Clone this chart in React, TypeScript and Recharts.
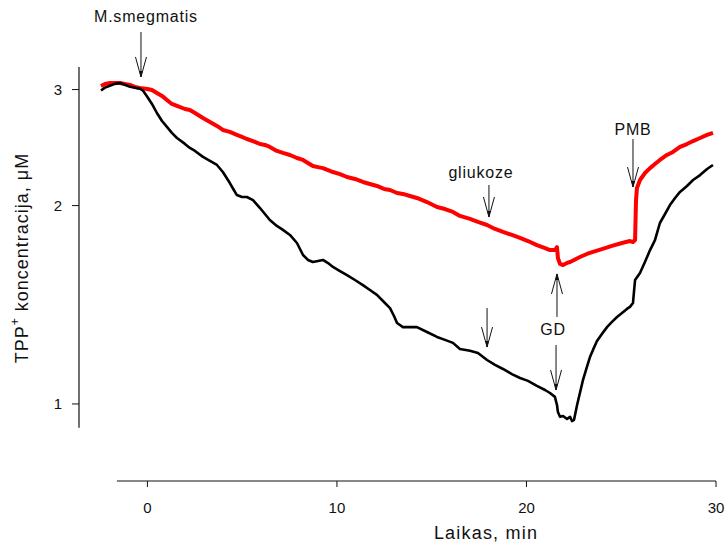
import React from 'react';
import { ComposedChart, Line, XAxis, YAxis, ReferenceLine, ReferenceDot } from 'recharts';

// Time (min) and TPP+ concentration (µM) for the control trace with glucose (red)
const redTime = [
  -2.45, -2.24, -1.98, -1.72, -1.45, -1.19, -0.92, -0.66, -0.4, 0, 0.24, 0.5, 0.77, 1.03, 1.29, 1.56,
  1.98, 2.24, 2.51, 2.93, 3.3, 3.67, 3.98, 4.35, 4.72, 4.99, 5.25, 5.57, 5.94, 6.2, 6.46, 6.83, 7.15,
  7.52, 7.89, 8.21, 8.47, 8.73, 9.0, 9.26, 9.53, 9.79, 10.16, 10.53, 10.95, 11.37, 11.74, 12.11, 12.48,
  12.8, 13.17, 13.48, 13.85, 14.22, 14.75, 15.28, 15.7, 16.12, 16.49, 17.02, 17.44, 17.92, 18.34, 18.76,
  19.23, 19.66, 20.08, 20.55, 20.98, 21.24, 21.5, 21.61, 21.66, 21.77, 21.93, 22.14, 22.3, 22.51, 22.82,
  23.19, 23.51, 23.98, 24.51, 25.04, 25.46, 25.62, 25.73, 25.78, 25.83, 25.99, 26.25, 26.52, 26.78,
  27.04, 27.41, 27.73, 28.1, 28.47, 28.79, 29.16, 29.53, 29.84,
];
const redConc = [
  3.038, 3.059, 3.07, 3.07, 3.07, 3.059, 3.049, 3.028, 3.017, 3.006, 2.996, 2.965, 2.934, 2.893, 2.853, 2.833,
  2.803, 2.794, 2.764, 2.716, 2.679, 2.642, 2.605, 2.587, 2.56, 2.542, 2.524, 2.506, 2.48, 2.472, 2.455, 2.421, 2.404,
  2.387, 2.362, 2.346, 2.321, 2.297, 2.288, 2.28, 2.264, 2.249, 2.233, 2.21, 2.195, 2.172, 2.157, 2.142, 2.12,
  2.112, 2.09, 2.083, 2.068, 2.054, 2.025, 1.99, 1.976, 1.956, 1.929, 1.909, 1.889, 1.869, 1.843, 1.824,
  1.805, 1.786, 1.767, 1.742, 1.724, 1.712, 1.712, 1.73, 1.665, 1.631, 1.625, 1.637, 1.642, 1.654, 1.671,
  1.689, 1.701, 1.718, 1.737, 1.755, 1.767, 1.761, 1.773, 2.039, 2.127, 2.187, 2.241, 2.28, 2.313,
  2.346, 2.387, 2.412, 2.455, 2.48, 2.506, 2.533, 2.56, 2.578,
];

// Time (min) and TPP+ concentration (µM) for the M. smegmatis trace (black)
const blackTime = [
  -2.45, -2.24, -1.98, -1.72, -1.45, -1.19, -0.92, -0.66, -0.4, -0.24, 0, 0.24, 0.5, 0.77, 1.03, 1.29,
  1.56, 1.98, 2.24, 2.51, 2.93, 3.3, 3.67, 3.98, 4.35, 4.56, 4.72, 4.99, 5.25, 5.57, 5.94, 6.2, 6.46,
  6.83, 7.15, 7.52, 7.89, 8.21, 8.47, 8.73, 9.0, 9.26, 9.53, 9.79, 10.16, 10.53, 10.95, 11.37, 11.74,
  12.11, 12.48, 12.8, 13.01, 13.17, 13.48, 13.85, 14.22, 14.75, 15.28, 15.7, 16.12, 16.49, 17.02, 17.44,
  17.92, 18.34, 18.76, 19.23, 19.66, 20.08, 20.55, 20.98, 21.24, 21.5, 21.61, 21.66, 21.77, 21.93, 22.14,
  22.3, 22.4, 22.51, 22.67, 22.82, 22.98, 23.19, 23.35, 23.51, 23.72, 23.98, 24.25, 24.51, 24.78, 25.04,
  25.3, 25.46, 25.62, 25.68, 25.73, 25.99, 26.25, 26.52, 26.78, 27.04, 27.31, 27.57, 27.84, 28.1, 28.47,
  28.79, 29.16, 29.53, 29.84,
];
const blackConc = [
  2.99, 3.02, 3.04, 3.06, 3.07, 3.05, 3.03, 3.02, 3.01, 2.99, 2.923, 2.853, 2.764, 2.688, 2.633, 2.578,
  2.533, 2.481, 2.446, 2.421, 2.371, 2.338, 2.305, 2.249, 2.164, 2.112, 2.075, 2.061, 2.061, 2.039, 1.983, 1.942, 1.902,
  1.863, 1.837, 1.805, 1.755, 1.683, 1.654, 1.642, 1.648, 1.654, 1.636, 1.614, 1.591, 1.569, 1.542, 1.515, 1.489,
  1.464, 1.428, 1.398, 1.36, 1.327, 1.308, 1.308, 1.308, 1.286, 1.264, 1.251, 1.238, 1.212, 1.204, 1.195,
  1.166, 1.146, 1.13, 1.11, 1.095, 1.084, 1.065, 1.05, 1.039, 1.025, 0.9965, 0.972, 0.956, 0.959, 0.949,
  0.956, 0.942, 0.946, 0.9965, 1.039, 1.087, 1.138, 1.178, 1.208, 1.246, 1.277, 1.308, 1.332, 1.355, 1.374,
  1.394, 1.404, 1.423, 1.489, 1.542, 1.58, 1.642, 1.712, 1.773, 1.882, 1.942, 2.004, 2.054, 2.098, 2.142,
  2.187, 2.225, 2.273, 2.305,
];

const xTicks = [0, 10, 20, 30];
const yTicks = [1, 2, 3];

// Additions marked on the traces: where the arrow tip sits (time, concentration)
const markerText = ['M.smegmatis', 'gliukoze', '', 'GD', '', 'PMB'];
const markerTime = [-0.34, 18.02, 17.92, 21.61, 21.56, 25.62];
const markerConc = [3.135, 1.922, 1.22, 1.575, 1.05, 2.134];
const markerUp = [false, false, false, true, false, false];

const redData = redTime.map((t, i) => ({ t, v: redConc[i] }));
const blackData = blackTime.map((t, i) => ({ t, v: blackConc[i] }));

const FONT = '"Liberation Sans", Arial, sans-serif';
const INK = '#111';

// pixel layout of each arrow: shaft length, label offset
const shaftLen = [45, 32, 39, 43, 45, 48];
const labelDx = [5, -8, 0, -4, 0, 0];
const labelDy = [-60, -44, 0, 56, 0, -58];

function ArrowShape(props: any) {
  const { cx, cy, idx } = props;
  if (cx == null || cy == null) return null;
  const up = markerUp[idx];
  const s = up ? -1 : 1;
  const len = shaftLen[idx];
  const headH = 20;
  const headW = 5.5;
  const text = markerText[idx];
  return (
    <g>
      <line x1={cx} y1={cy - s * len} x2={cx} y2={cy} stroke={INK} strokeWidth={1} />
      <polyline
        points={`${cx - headW},${cy - s * headH} ${cx},${cy} ${cx + headW},${cy - s * headH}`}
        fill="none"
        stroke={INK}
        strokeWidth={1}
      />
      <polygon
        points={`${cx - 1.8},${cy - s * 6} ${cx + 1.8},${cy - s * 6} ${cx},${cy}`}
        fill={INK}
      />
      {text ? (
        <text
          x={cx + labelDx[idx]}
          y={cy + labelDy[idx]}
          textAnchor="middle"
          dominantBaseline="central"
          fontFamily={FONT}
          fontSize={16}
          letterSpacing={0.8}
          fill={INK}
        >
          {text}
        </text>
      ) : null}
    </g>
  );
}

const XTitle = () => (
  <text
    x={486}
    y={533}
    textAnchor="middle"
    dominantBaseline="central"
    fontFamily={FONT}
    fontSize={18}
    letterSpacing={1.2}
    fill={INK}
  >
    Laikas, min
  </text>
);

const YTitle = () => (
  <text
    x={22}
    y={258}
    transform="rotate(-90, 22, 258)"
    textAnchor="middle"
    dominantBaseline="central"
    fontFamily={FONT}
    fontSize={18}
    letterSpacing={1}
    fill={INK}
  >
    TPP
    <tspan dy={-7} fontSize={12}>+</tspan>
    <tspan dy={7}> koncentracija, μM</tspan>
  </text>
);

export default function App() {
  return (
    <div style={{ position: 'absolute', left: 0, top: 0, background: '#fff' }}>
      <ComposedChart width={725} height={543} margin={{ top: 67, right: 9, bottom: 0, left: 0 }}>
        <XAxis
          type="number"
          dataKey="t"
          domain={[-3.61, 30]}
          allowDataOverflow
          ticks={xTicks}
          interval={0}
          axisLine={false}
          tickSize={6}
          tickLine={{ stroke: INK, strokeWidth: 1 }}
          tickMargin={15}
          height={62}
          tick={{ fontFamily: FONT, fontSize: 15, fill: INK }}
          label={XTitle}
        />
        <YAxis
          type="number"
          scale="log"
          domain={[0.764, 3.246]}
          allowDataOverflow
          ticks={yTicks}
          interval={0}
          axisLine={false}
          tickSize={7}
          tickLine={{ stroke: INK, strokeWidth: 1 }}
          tickMargin={10}
          width={79}
          tick={{ fontFamily: FONT, fontSize: 15, fill: INK }}
          label={YTitle}
        />
        {/* detached axis lines */}
        <ReferenceLine
          segment={[{ x: -3.61, y: 0.92 }, { x: -3.61, y: 3.246 }]}
          stroke={INK}
          strokeWidth={1.2}
          ifOverflow="visible"
        />
        <ReferenceLine
          segment={[{ x: -1.61, y: 0.764 }, { x: 30, y: 0.764 }]}
          stroke={INK}
          strokeWidth={1.2}
          ifOverflow="visible"
        />
        <Line
          data={redData}
          dataKey="v"
          type="linear"
          stroke="#ff0000"
          strokeWidth={4}
          strokeLinejoin="round"
          dot={false}
          activeDot={false}
          isAnimationActive={false}
        />
        <Line
          data={blackData}
          dataKey="v"
          type="linear"
          stroke="#000"
          strokeWidth={2.6}
          strokeLinejoin="round"
          dot={false}
          activeDot={false}
          isAnimationActive={false}
        />
        {markerTime.map((t, i) => (
          <ReferenceDot
            key={i}
            x={t}
            y={markerConc[i]}
            ifOverflow="visible"
            shape={(p: any) => <ArrowShape {...p} idx={i} />}
          />
        ))}
      </ComposedChart>
    </div>
  );
}
